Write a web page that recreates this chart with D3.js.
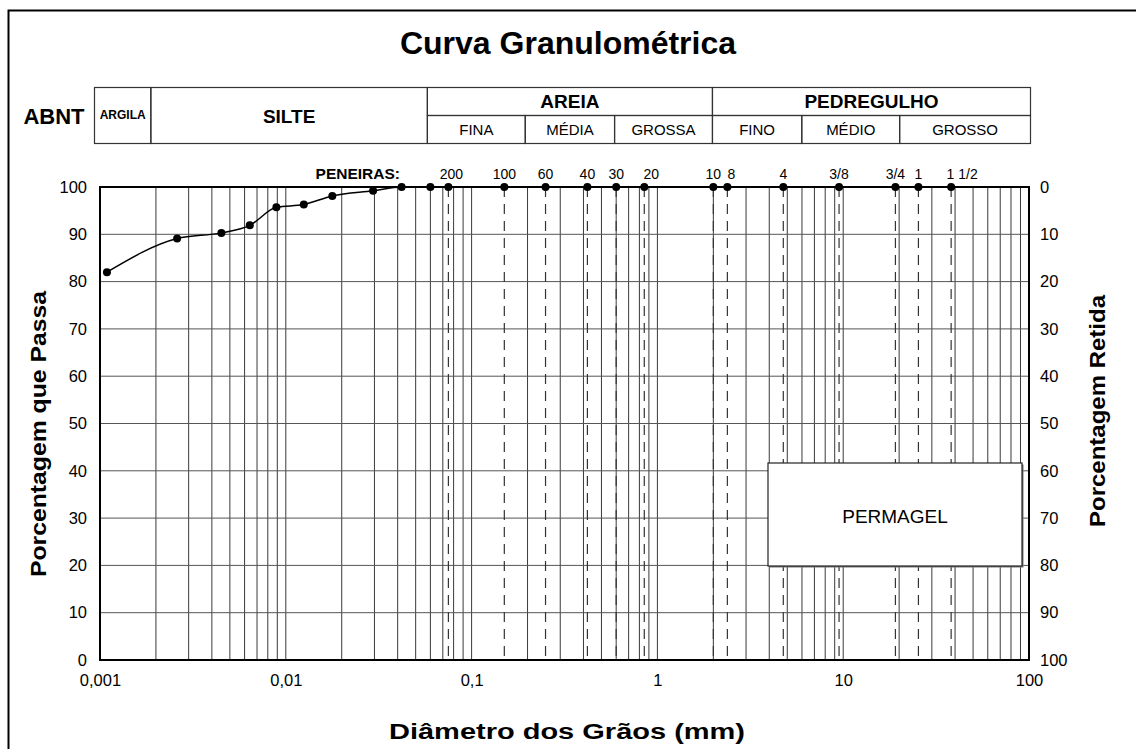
<!DOCTYPE html>
<html>
<head>
<meta charset="utf-8">
<script src="https://cdn.jsdelivr.net/npm/d3@7"></script>
<style>
  body { margin: 0; background: #fff; }
  text { font-family: "Liberation Sans", Arial, sans-serif; fill: #000; }
</style>
</head>
<body>
<div id="chart"></div>
<script>
// grain size curve (diameter mm, % passing)
var diametros = [0.00109, 0.0026, 0.0045, 0.0064, 0.0089, 0.0125, 0.0178, 0.0295, 0.042, 0.06,
                 0.075, 0.15, 0.25, 0.42, 0.6, 0.85, 2.0, 2.38, 4.76, 9.5, 19.1, 25.4, 38.1];
var passa = [82, 89.1, 90.3, 91.9, 95.7, 96.3, 98.1, 99.2, 100, 100,
             100, 100, 100, 100, 100, 100, 100, 100, 100, 100, 100, 100, 100];

// sieves
var peneiras = ["200", "100", "60", "40", "30", "20", "10", "8", "4", "3/8", "3/4", "1", "1 1/2"];
var aberturas = [0.075, 0.15, 0.25, 0.42, 0.6, 0.85, 2.0, 2.38, 4.76, 9.5, 19.1, 25.4, 38.1];

// ABNT classification bands
var faixasTopo = [
  { nome: "ARGILA", de: 0.001, ate: 0.002 },
  { nome: "SILTE", de: 0.002, ate: 0.06 },
  { nome: "AREIA", de: 0.06, ate: 2 },
  { nome: "PEDREGULHO", de: 2, ate: 100 }
];
var faixasBaixo = [
  { nome: "FINA", de: 0.06, ate: 0.2 },
  { nome: "MÉDIA", de: 0.2, ate: 0.6 },
  { nome: "GROSSA", de: 0.6, ate: 2 },
  { nome: "FINO", de: 2, ate: 6 },
  { nome: "MÉDIO", de: 6, ate: 20 },
  { nome: "GROSSO", de: 20, ate: 100 }
];

var xTicks = [0.001, 0.01, 0.1, 1, 10, 100];
var xTickLabels = ["0,001", "0,01", "0,1", "1", "10", "100"];
var yTicks = [0, 10, 20, 30, 40, 50, 60, 70, 80, 90, 100];

var w = 1136;
var h = 749;
var pLeft = 100, pRight = 1029, pTop = 187, pBottom = 660;

var svg = d3.select("#chart")
            .append("svg")
            .attr("width", w)
            .attr("height", h);

var xScale = d3.scaleLog().domain([0.001, 100]).range([pLeft, pRight]);
var yScale = d3.scaleLinear().domain([0, 100]).range([pBottom, pTop]);
var yRetida = d3.scaleLinear().domain([100, 0]).range([pBottom, pTop]);
var xTabela = d3.scaleLog().domain([0.001, 100]).range([94.5, 1030.5]);

// outer frame (open to the right and bottom)
svg.append("path")
   .attr("d", "M1140,10.5H8.5V760")
   .attr("fill", "none")
   .attr("stroke", "#000")
   .attr("stroke-width", 2);

svg.append("text")
   .attr("x", 568).attr("y", 54)
   .attr("text-anchor", "middle")
   .style("font-size", "32px").style("font-weight", "bold")
   .text("Curva Granulométrica");

// ---- classification table
var tTop = 87.5, tMid = 115.5, tBot = 143.5;
var tab = svg.append("g").attr("fill", "none").attr("stroke", "#333").attr("stroke-width", 1.2);

tab.selectAll("rect.topo")
   .data(faixasTopo)
   .enter()
   .append("rect")
   .attr("x", function(d) { return xTabela(d.de); })
   .attr("y", tTop)
   .attr("width", function(d) { return xTabela(d.ate) - xTabela(d.de); })
   .attr("height", function(d) { return d.de >= 0.06 ? tMid - tTop : tBot - tTop; });

tab.selectAll("rect.baixo")
   .data(faixasBaixo)
   .enter()
   .append("rect")
   .attr("x", function(d) { return xTabela(d.de); })
   .attr("y", tMid)
   .attr("width", function(d) { return xTabela(d.ate) - xTabela(d.de); })
   .attr("height", tBot - tMid);

svg.append("text")
   .attr("x", 54).attr("y", 124)
   .attr("text-anchor", "middle")
   .style("font-size", "22px").style("font-weight", "bold")
   .text("ABNT");

svg.selectAll("text.topo")
   .data(faixasTopo)
   .enter()
   .append("text")
   .attr("x", function(d) { return (xTabela(d.de) + xTabela(d.ate)) / 2; })
   .attr("y", function(d) { return d.de >= 0.06 ? 108 : (d.nome == "ARGILA" ? 119 : 123); })
   .attr("text-anchor", "middle")
   .style("font-size", function(d) { return d.nome == "ARGILA" ? "12px" : "19px"; })
   .style("font-weight", "bold")
   .text(function(d) { return d.nome; });

svg.selectAll("text.baixo")
   .data(faixasBaixo)
   .enter()
   .append("text")
   .attr("x", function(d) { return (xTabela(d.de) + xTabela(d.ate)) / 2; })
   .attr("y", 135)
   .attr("text-anchor", "middle")
   .style("font-size", "15px")
   .text(function(d) { return d.nome; });

// ---- grid
var grade = svg.append("g");
var menores = [];
for (var e = -3; e < 2; e++) {
  for (var k = 1; k <= 9; k++) {
    if (e == -3 && k == 1) continue;
    menores.push(k * Math.pow(10, e));
  }
}
grade.selectAll("line.v")
     .data(menores)
     .enter()
     .append("line")
     .attr("x1", function(d) { return xScale(d); })
     .attr("x2", function(d) { return xScale(d); })
     .attr("y1", pTop).attr("y2", pBottom)
     .attr("stroke", "#3a3a3a")
     .attr("stroke-width", 1);

grade.selectAll("line.h")
     .data(yTicks)
     .enter()
     .append("line")
     .attr("x1", pLeft).attr("x2", pRight)
     .attr("y1", function(d) { return yScale(d); })
     .attr("y2", function(d) { return yScale(d); })
     .attr("stroke", "#555")
     .attr("stroke-width", 1);

// sieve dashed lines
grade.selectAll("line.peneira")
     .data(aberturas)
     .enter()
     .append("line")
     .attr("x1", function(d) { return xScale(d); })
     .attr("x2", function(d) { return xScale(d); })
     .attr("y1", pTop).attr("y2", pBottom)
     .attr("stroke", "#333")
     .attr("stroke-width", 1.2)
     .attr("stroke-dasharray", "10,7");

// permagel box
svg.append("rect")
   .attr("x", 769.5).attr("y", 464.5)
   .attr("width", 254).attr("height", 103)
   .attr("fill", "#777");
svg.append("rect")
   .attr("x", 768).attr("y", 463)
   .attr("width", 254).attr("height", 103)
   .attr("fill", "#fff")
   .attr("stroke", "#222")
   .attr("stroke-width", 1.2);
svg.append("text")
   .attr("x", 895).attr("y", 523)
   .attr("text-anchor", "middle")
   .style("font-size", "19px")
   .text("PERMAGEL");

// plot border
svg.append("rect")
   .attr("x", pLeft).attr("y", pTop)
   .attr("width", pRight - pLeft).attr("height", pBottom - pTop)
   .attr("fill", "none")
   .attr("stroke", "#000")
   .attr("stroke-width", 2);

// ---- axes
var eixoY = svg.append("g")
   .attr("transform", "translate(" + (pLeft - 13) + ",0)")
   .call(d3.axisLeft(yScale).tickValues(yTicks).tickSize(0).tickPadding(0));
var eixoY2 = svg.append("g")
   .attr("transform", "translate(" + (pRight + 11) + ",0)")
   .call(d3.axisRight(yRetida).tickValues(yTicks).tickSize(0).tickPadding(0));
var eixoX = svg.append("g")
   .attr("transform", "translate(0," + (pBottom + 14) + ")")
   .call(d3.axisBottom(xScale).tickValues(xTicks).tickSize(0).tickPadding(0)
           .tickFormat(function(d, i) { return xTickLabels[i]; }));
[eixoY, eixoY2, eixoX].forEach(function(g) {
  g.select(".domain").remove();
  g.selectAll("text").style("font-size", "16.5px").attr("fill", "#000")
   .style("font-family", "'Liberation Sans', Arial, sans-serif");
});

svg.append("text")
   .attr("transform", "translate(46,434) rotate(-90)")
   .attr("text-anchor", "middle")
   .attr("textLength", 286).attr("lengthAdjust", "spacingAndGlyphs")
   .style("font-size", "22px").style("font-weight", "bold")
   .text("Porcentagem que Passa");
svg.append("text")
   .attr("transform", "translate(1105,411) rotate(-90)")
   .attr("text-anchor", "middle")
   .attr("textLength", 232).attr("lengthAdjust", "spacingAndGlyphs")
   .style("font-size", "22px").style("font-weight", "bold")
   .text("Porcentagem Retida");
svg.append("text")
   .attr("x", 567).attr("y", 739)
   .attr("text-anchor", "middle")
   .attr("textLength", 356).attr("lengthAdjust", "spacingAndGlyphs")
   .style("font-size", "22px").style("font-weight", "bold")
   .text("Diâmetro dos Grãos (mm)");

// ---- sieve labels
svg.append("text")
   .attr("x", 400).attr("y", 179)
   .attr("text-anchor", "end")
   .style("font-size", "15.5px").style("font-weight", "bold")
   .text("PENEIRAS:");
var ajuste = { "20": 7, "8": 4, "1 1/2": 11, "200": 3 };
svg.selectAll("text.peneira")
   .data(peneiras)
   .enter()
   .append("text")
   .attr("x", function(d, i) { return xScale(aberturas[i]) + (ajuste[d] || 0); })
   .attr("y", 179)
   .attr("text-anchor", "middle")
   .style("font-size", "14px")
   .text(function(d) { return d; });

// ---- curve
var linha = d3.line()
              .x(function(d) { return xScale(d[0]); })
              .y(function(d) { return yScale(d[1]); })
              .curve(d3.curveMonotoneX);
var pontos = diametros.map(function(d, i) { return [d, passa[i]]; });

svg.append("path")
   .datum(pontos)
   .attr("d", linha)
   .attr("fill", "none")
   .attr("stroke", "#000")
   .attr("stroke-width", 1.5);

svg.selectAll("circle")
   .data(pontos)
   .enter()
   .append("circle")
   .attr("cx", function(d) { return xScale(d[0]); })
   .attr("cy", function(d) { return yScale(d[1]); })
   .attr("r", 4)
   .attr("fill", "#000");
</script>
</body>
</html>
